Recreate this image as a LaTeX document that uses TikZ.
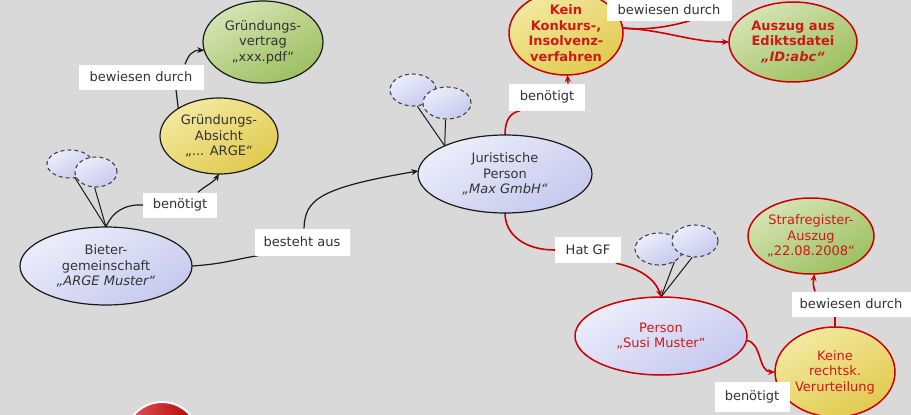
\documentclass[tikz,border=0pt]{standalone}
\usepackage{fontspec}
\setmainfont{DejaVu Sans}
\usetikzlibrary{shapes.geometric,arrows.meta}
\definecolor{canvasgray}{HTML}{D9D9D9}
\definecolor{lavL}{HTML}{ECEDFB}
\definecolor{lavD}{HTML}{C6C9EE}
\definecolor{yelL}{HTML}{F3E9A0}
\definecolor{yelD}{HTML}{E1CA4E}
\definecolor{grnL}{HTML}{D5E4B4}
\definecolor{grnD}{HTML}{9DBF5F}
\definecolor{edgeblack}{HTML}{1A1A1A}
\definecolor{edgered}{HTML}{CC0000}
\definecolor{textdark}{HTML}{333333}
\definecolor{textred}{HTML}{CC1A1A}
\definecolor{bubborder}{HTML}{444444}
\definecolor{stopL}{HTML}{E25A5A}
\definecolor{stopD}{HTML}{B30000}
\pgfdeclarelayer{bgl}
\pgfdeclarelayer{edges}
\pgfsetlayers{bgl,edges,main}
\tikzset{
  basenode/.style={ellipse, inner sep=0pt, outer sep=0pt, align=center,
    font=\fontsize{13}{15.5}\selectfont},
  lavfill/.style={top color=lavL, bottom color=lavD, shading angle=30},
  yelfill/.style={top color=yelL, bottom color=yelD, shading angle=30},
  grnfill/.style={top color=grnL, bottom color=grnD, shading angle=30},
  blkborder/.style={draw=edgeblack, line width=1.2pt, text=textdark},
  redborder/.style={draw=edgered, line width=1.5pt, text=textred},
  boldtext/.style={font=\fontsize{13}{15.5}\selectfont\bfseries},
  bub/.style={ellipse, inner sep=0pt, lavfill, draw=bubborder, line width=1.1pt,
    dash pattern=on 4pt off 3pt},
  lbl/.style={fill=white, inner sep=0pt, text=textdark,
    font=\fontsize{13}{15.5}\selectfont},
  blkline/.style={draw=edgeblack, line width=1.2pt},
  redline/.style={draw=edgered, line width=1.6pt},
  thinline/.style={draw=edgeblack, line width=1pt},
  arr/.style={-{Stealth[length=7pt,width=6pt]}}
}
\begin{document}
\begin{tikzpicture}[x=1pt,y=-1pt]
\begin{pgfonlayer}{bgl}
\fill[canvasgray] (0,0) rectangle (911,415);
\end{pgfonlayer}
\useasboundingbox (0,0) rectangle (911,415);

% main nodes
\node[basenode, grnfill, blkborder, minimum width=120pt, minimum height=82pt] (gv) at (263,42) {Gründungs-\\vertrag\\„xxx.pdf“};
\node[basenode, yelfill, blkborder, minimum width=118pt, minimum height=76pt] (ga) at (219,136) {Gründungs-\\Absicht\\„... ARGE“};
\node[basenode, lavfill, blkborder, minimum width=172pt, minimum height=78pt] (bg) at (106,266) {Bieter-\\gemeinschaft\\\textit{„ARGE Muster“}};
\node[basenode, lavfill, blkborder, minimum width=174pt, minimum height=78pt] (jp) at (505,174) {Juristische\\Person\\\textit{„Max GmbH“}};
\node[basenode, yelfill, redborder, boldtext, minimum width=114pt, minimum height=84pt] (kk) at (566,33) {Kein\\Konkurs-,\\Insolvenz-\\verfahren};
\node[basenode, grnfill, redborder, boldtext, minimum width=128pt, minimum height=80pt] (ae) at (793,42) {Auszug aus\\Ediktsdatei\\\textit{„ID:abc“}};
\node[basenode, lavfill, redborder, minimum width=172pt, minimum height=78pt] (ps) at (661,336) {Person\\„Susi Muster“};
\node[basenode, grnfill, redborder, minimum width=126pt, minimum height=76pt] (sr) at (811,236) {Strafregister-\\Auszug\\„22.08.2008“};
\node[basenode, yelfill, redborder, minimum width=120pt, minimum height=90pt] (kr) at (835,372) {Keine\\rechtsk.\\Verurteilung};

% small dashed bubbles
\node[bub, minimum width=46pt, minimum height=28pt] (b1) at (70,164) {};
\node[bub, minimum width=42pt, minimum height=30pt] (b2) at (96,172) {};
\node[bub, minimum width=46pt, minimum height=32pt] (j1) at (413,90) {};
\node[bub, minimum width=48pt, minimum height=32pt] (j2) at (447,103) {};
\node[bub, minimum width=48pt, minimum height=32pt] (p1) at (659,249) {};
\node[bub, minimum width=46pt, minimum height=32pt] (p2) at (695,241) {};

% red circle at the bottom
\node[circle, inner sep=0pt, minimum size=74pt, left color=stopL, right color=stopD, draw=white, line width=2pt] (stopc) at (162,439) {};

% labels
\node[lbl, minimum width=125pt, minimum height=25pt] (bd1) at (141,77) {bewiesen durch};
\node[lbl, minimum width=74pt, minimum height=25pt] (ben1) at (180,205) {benötigt};
\node[lbl, minimum width=95pt, minimum height=27pt] (ba) at (302,242) {besteht aus};
\node[lbl, minimum width=76pt, minimum height=27pt] (ben2) at (547,97) {benötigt};
\node[lbl, minimum width=125pt, minimum height=21pt] (bd2) at (669,10) {bewiesen durch};
\node[lbl, minimum width=66pt, minimum height=26pt] (hgf) at (588,250) {Hat GF};
\node[lbl, minimum width=119pt, minimum height=25pt] (bd3) at (851,304) {bewiesen durch};
\node[lbl, minimum width=75pt, minimum height=30pt] (ben3) at (752,397) {benötigt};

\begin{pgfonlayer}{edges}
% bubble strings
\draw[thinline] (b1.-70) -- (bg.90);
\draw[thinline] (b2.-95) -- (bg.90);
\draw[thinline] (j1.-75) -- (jp.155);
\draw[thinline] (j2.-95) -- (jp.155);
\draw[thinline] (p1.-40) -- (ps.90);
\draw[thinline] (p2.-100) -- (ps.90);

% Bieter -> Gruendungs-Absicht
\draw[blkline] (bg.90) .. controls (112,212) and (125,204) .. (ben1.west);
\draw[blkline, arr] ([xshift=18pt]ben1.north) .. controls (205,186) and (214,182) .. (ga.-90);
% Absicht -> Vertrag
\draw[blkline] (ga.146) .. controls (177,100) .. ([xshift=35pt]bd1.south);
\draw[blkline, arr] ([xshift=44pt]bd1.north) .. controls (188,56) and (192,50) .. (gv.188);
% Bieter -> Juristische Person
\draw[blkline] (bg.0) .. controls (225,264) and (240,258) .. ([xshift=4pt]ba.south west);
\draw[blkline, arr] ([xshift=2pt]ba.north) .. controls (305,200) and (318,188) .. (jp.178);
% Juristische Person -> Kein Konkurs
\draw[redline] (jp.90) .. controls (505,120) and (510,113) .. ([xshift=-27pt]ben2.south);
\draw[redline, arr] ([xshift=21pt]ben2.north) -- (kk.-88);
% Kein Konkurs -> Auszug
\draw[redline] (kk.5) .. controls (650,31) and (675,25) .. ([xshift=21pt]bd2.south);
\draw[redline, arr] (kk.5) .. controls (665,30) and (690,42) .. (ae.west);
% Juristische Person -> Person
\draw[redline] (jp.-90) .. controls (505,235) and (525,250) .. (hgf.west);
\draw[redline, arr] ([xshift=28pt]hgf.south) .. controls (638,268) and (655,278) .. (ps.90);
% Person -> Keine Verurteilung
\draw[redline, arr] (ps.-3) .. controls (762,342) and (758,372) .. (kr.west);
% Keine Verurteilung -> Strafregister
\draw[redline] (kr.90) -- ([xshift=-16pt]bd3.south);
\draw[redline, arr] ([xshift=-36pt]bd3.north) .. controls (813,285) .. (sr.-85);
\end{pgfonlayer}
\end{tikzpicture}
\end{document}
